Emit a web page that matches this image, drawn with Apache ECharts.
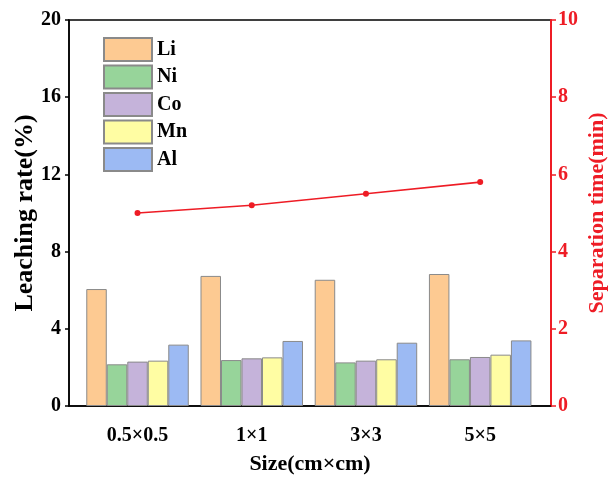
<!DOCTYPE html>
<html>
<head>
<meta charset="utf-8">
<script src="https://cdn.jsdelivr.net/npm/echarts@6/dist/echarts.min.js"></script>
<style>html,body{margin:0;padding:0;background:#fff}#c{width:609px;height:477px}</style>
</head>
<body>
<div id="c"></div>
<script>
var categories = ['0.5×0.5', '1×1', '3×3', '5×5'];
var li = [6.06, 6.74, 6.54, 6.84];
var ni = [2.16, 2.38, 2.26, 2.42];
var co = [2.30, 2.47, 2.35, 2.54];
var mn = [2.35, 2.52, 2.42, 2.66];
var al = [3.18, 3.37, 3.28, 3.40];
var sepTime = [5.0, 5.2, 5.5, 5.8];
var leftTicks = [0, 4, 8, 12, 16, 20];
var rightTicks = [0, 2, 4, 6, 8, 10];

var FONT = '"Liberation Serif", "Times New Roman", serif';
function pairs(arr) { return arr.map(function (v, i) { return [i, v]; }); }

var barSpecs = [
  { name: 'Li', data: li, color: '#fdca92' },
  { name: 'Ni', data: ni, color: '#97d49a' },
  { name: 'Co', data: co, color: '#c5b3da' },
  { name: 'Mn', data: mn, color: '#fffda3' },
  { name: 'Al', data: al, color: '#9cbaf3' }
];

var series = barSpecs.map(function (s) {
  return {
    name: s.name,
    type: 'bar',
    data: pairs(s.data),
    barWidth: 20.5,
    barGap: '0%',
    itemStyle: { color: s.color, borderColor: '#8a8a8a', borderWidth: 1 }
  };
});
series.push({
  name: 'Separation time',
  type: 'line',
  yAxisIndex: 1,
  data: pairs(sepTime),
  symbol: 'circle',
  symbolSize: 6,
  lineStyle: { color: '#ee1c25', width: 1.6 },
  itemStyle: { color: '#ee1c25' },
  z: 5
});

var chart = echarts.init(document.getElementById('c'), null, { renderer: 'canvas' });
chart.setOption({
  animation: false,
  backgroundColor: '#fff',
  grid: {
    left: 69, right: 58, top: 20, bottom: 71,
    outerBoundsMode: 'none', containLabel: false,
    show: true, borderColor: '#000', borderWidth: 1.5, backgroundColor: 'transparent'
  },
  legend: {
    data: barSpecs.map(function (s) { return s.name; }),
    orient: 'vertical',
    left: 103,
    top: 37,
    padding: 0,
    itemWidth: 48,
    itemHeight: 23,
    itemGap: 2.5,
    icon: 'rect',
    textStyle: { fontFamily: FONT, fontWeight: 'bold', fontSize: 20, lineHeight: 23, color: '#000' }
  },
  xAxis: {
    type: 'value',
    min: -0.6,
    max: 3.62,
    interval: 0.2,
    splitLine: { show: false },
    axisTick: { show: false },
    axisLine: { onZero: false, lineStyle: { color: '#000', width: 1.5 } },
    axisLabel: {
      margin: 20,
      fontFamily: FONT, fontWeight: 'bold', fontSize: 20, color: '#000',
      showMinLabel: false, showMaxLabel: false,
      formatter: function (v) {
        var r = Math.round(v);
        if (Math.abs(v - r) < 1e-6 && r >= 0 && r < categories.length) return categories[r];
        return '';
      }
    },
    name: 'Size(cm×cm)',
    nameLocation: 'middle',
    nameMoveOverlap: false,
    nameGap: 47,
    nameTextStyle: { fontFamily: FONT, fontWeight: 'bold', fontSize: 22, color: '#000' }
  },
  yAxis: [
    {
      type: 'value',
      min: leftTicks[0],
      max: leftTicks[leftTicks.length - 1],
      interval: leftTicks[1] - leftTicks[0],
      position: 'left',
      splitLine: { show: false },
      axisLine: { show: true, onZero: false, lineStyle: { color: '#000', width: 1.5 } },
      axisTick: { show: true, inside: false, length: 4, lineStyle: { color: '#000', width: 1.5 } },
      axisLabel: { margin: 8, fontFamily: FONT, fontWeight: 'bold', fontSize: 20, color: '#000' },
      name: 'Leaching rate(%)',
      nameLocation: 'middle',
      nameMoveOverlap: false,
      nameGap: 31,
      nameTextStyle: { fontFamily: FONT, fontWeight: 'bold', fontSize: 26, color: '#000' }
    },
    {
      type: 'value',
      min: rightTicks[0],
      max: rightTicks[rightTicks.length - 1],
      interval: rightTicks[1] - rightTicks[0],
      position: 'right',
      splitLine: { show: false },
      axisLine: { show: true, onZero: false, lineStyle: { color: '#ee1c25', width: 2 } },
      axisTick: { show: true, inside: false, length: 5, lineStyle: { color: '#ee1c25', width: 1.5 } },
      axisLabel: { margin: 7, fontFamily: FONT, fontWeight: 'bold', fontSize: 20, color: '#ee1c25' },
      name: 'Separation time(min)',
      nameLocation: 'middle',
      nameMoveOverlap: false,
      nameGap: 35,
      nameRotate: 90,
      nameTextStyle: { fontFamily: FONT, fontWeight: 'bold', fontSize: 22, color: '#ee1c25' }
    }
  ],
  series: series
});
</script>
</body>
</html>
